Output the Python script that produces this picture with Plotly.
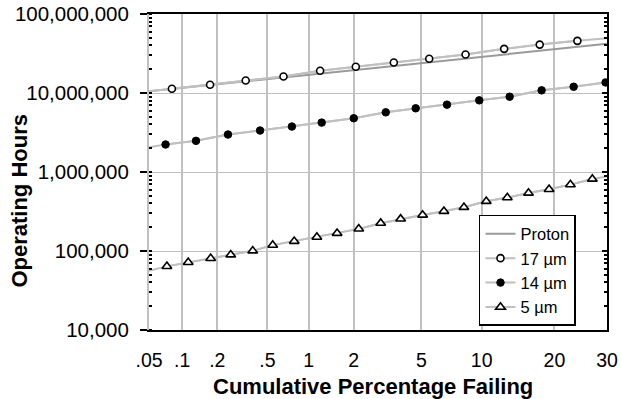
import plotly.graph_objects as go
from statistics import NormalDist

# ---------------- data ----------------
tick_pct = [0.05, 0.1, 0.2, 0.5, 1, 2, 5, 10, 20, 30]
tick_text = [".05", ".1", ".2", ".5", "1", "2", "5", "10", "20", "30"]
y_tick_vals = [1e4, 1e5, 1e6, 1e7, 1e8]
y_tick_text = ["10,000", "100,000", "1,000,000", "10,000,000", "100,000,000"]

edge_pct = [0.05, 30.0]          # line extensions reach the chart edges
proton_hrs = [10.5e6, 41.9e6]

pct_17 = [0.081, 0.174, 0.34, 0.66, 1.2, 2.06, 3.5, 5.5, 8.4, 12.6, 17.6, 24.1]
hrs_17 = [11.3e6, 12.7e6, 14.4e6, 16.2e6, 19.1e6, 21.5e6, 24.3e6, 27.1e6,
          30.7e6, 36.2e6, 41.0e6, 45.7e6]
ends_17 = [10.5e6, 49.5e6]

pct_14 = [0.071, 0.132, 0.245, 0.44, 0.76, 1.23, 2.0, 3.14, 4.65, 6.8,
          9.75, 13.3, 17.9, 23.4, 29.7]
hrs_14 = [2.23e6, 2.48e6, 2.98e6, 3.35e6, 3.76e6, 4.22e6, 4.79e6, 5.69e6,
          6.40e6, 7.12e6, 8.07e6, 8.98e6, 10.8e6, 12.0e6, 13.6e6]
ends_14 = [2.05e6, 13.7e6]

pct_5 = [0.073, 0.113, 0.176, 0.258, 0.386, 0.549, 0.79, 1.14, 1.56, 2.15,
         2.93, 3.83, 5.07, 6.56, 8.25, 10.5, 13.0, 15.9, 19.1, 22.8, 27.0]
hrs_5 = [63.9e3, 71.8e3, 80.7e3, 89.6e3, 100.6e3, 118.7e3, 133e3, 149.8e3,
         168e3, 190.6e3, 225e3, 254.8e3, 286e3, 318.7e3, 357.7e3, 426e3,
         474e3, 542e3, 604e3, 692e3, 815e3]
ends_5 = [56e3, 880e3]

# ---------------- helpers ----------------
nd = NormalDist()


def z(pcts):
    return [nd.inv_cdf(p / 100.0) for p in pcts]


FONT = "Liberation Sans, Arial, sans-serif"
LIGHT = "#c0c0c0"

fig = go.Figure()

fig.add_trace(go.Scatter(
    x=z(edge_pct), y=proton_hrs, mode="lines", name="Proton",
    line=dict(color="#9a9a9a", width=2)))

series = [
    ("17 µm", pct_17, hrs_17, ends_17,
     dict(symbol="circle", size=7, color="white", line=dict(color="black", width=1.6))),
    ("14 µm", pct_14, hrs_14, ends_14,
     dict(symbol="circle", size=7.5, color="black", line=dict(color="black", width=1))),
    ("5 µm", pct_5, hrs_5, ends_5,
     dict(symbol="triangle-up", size=8.5, color="white", line=dict(color="black", width=1.6))),
]

for name, pct, hrs, ends, mk in series:
    xs = z([edge_pct[0]] + pct + [edge_pct[1]])
    ys = [ends[0]] + hrs + [ends[1]]
    fig.add_trace(go.Scatter(x=xs, y=ys, mode="lines", showlegend=False,
                             line=dict(color=LIGHT, width=2), hoverinfo="skip"))
    fig.add_trace(go.Scatter(x=z(pct), y=hrs, mode="lines+markers", name=name,
                             line=dict(color=LIGHT, width=2), marker=mk))

# dummy trace to activate the right-hand axis
fig.add_trace(go.Scatter(x=[None], y=[None], yaxis="y2", showlegend=False,
                         hoverinfo="skip"))

zt = z(tick_pct)
pad = 1e-4
fig.update_layout(
    width=621, height=399, autosize=False,
    margin=dict(l=149, r=14, t=14, b=69),
    paper_bgcolor="white", plot_bgcolor="white",
    font=dict(family=FONT, color="black"),
    showlegend=True,
    xaxis=dict(
        range=[zt[0] - pad, zt[-1] + pad], automargin=False,
        tickmode="array", tickvals=zt, ticktext=tick_text,
        showgrid=True, gridcolor=LIGHT, gridwidth=2,
        zeroline=False, showline=True, mirror=True,
        linecolor="black", linewidth=2,
        ticks="", tickfont=dict(size=19.5, family=FONT),
        ticklabelstandoff=12,
    ),
    yaxis=dict(
        type="log", range=[4, 8], automargin=False,
        tickmode="array", tickvals=y_tick_vals, ticktext=y_tick_text,
        showgrid=True, gridcolor=LIGHT, gridwidth=1.3,
        zeroline=False, showline=True, linecolor=LIGHT, linewidth=2,
        ticks="outside", ticklen=7, tickwidth=2, tickcolor="black",
        minor=dict(ticks="inside", ticklen=3, tickwidth=1.5,
                   tickcolor="black", dtick="D1", showgrid=False),
        tickfont=dict(size=20.5, family=FONT),
        ticklabelstandoff=7,
    ),
    yaxis2=dict(
        type="log", range=[4, 8], overlaying="y", side="right", automargin=False,
        tickmode="array", tickvals=y_tick_vals, showticklabels=False,
        showgrid=False, zeroline=False, showline=True,
        linecolor="black", linewidth=2,
        ticks="inside", ticklen=5, tickwidth=1.5, tickcolor="black",
        minor=dict(ticks="inside", ticklen=3, tickwidth=1.5,
                   tickcolor="black", dtick="D1", showgrid=False),
    ),
    legend=dict(
        x=0.7205, y=0.364, xanchor="left", yanchor="top",
        bgcolor="white", bordercolor="black", borderwidth=1.5,
        font=dict(size=16.5, family=FONT), traceorder="normal",
        tracegroupgap=0,
    ),
    annotations=[
        dict(text="<b>Operating Hours</b>", xref="paper", yref="paper",
             x=-0.2828, y=0.411, xanchor="center", yanchor="middle",
             textangle=-90, showarrow=False, font=dict(size=22, family=FONT)),
        dict(text="<b>Cumulative Percentage Failing</b>", xref="paper", yref="paper",
             x=0.488, y=-0.133, xanchor="center", yanchor="top",
             showarrow=False, font=dict(size=22, family=FONT)),
    ],
)

fig.write_html(
    "out.html",
    config={"displayModeBar": False},
    post_script="document.body.style.margin='0';document.body.style.padding='0';",
)
